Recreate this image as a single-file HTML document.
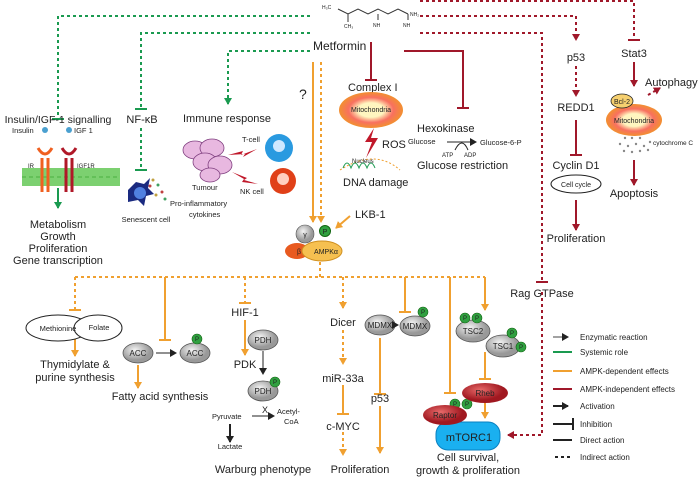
<!DOCTYPE html>
<html><head><meta charset="utf-8"><style>
html,body{margin:0;padding:0;background:#fff}
svg{display:block}
text{font-family:"Liberation Sans",sans-serif;fill:#222}
</style></head><body>
<svg width="700" height="478" viewBox="0 0 700 478" xmlns="http://www.w3.org/2000/svg">
<defs>
<marker id="ag" markerWidth="8" markerHeight="8" refX="6" refY="4" orient="auto" markerUnits="userSpaceOnUse"><path d="M0,0 L7,4 L0,8 z" fill="#1a9a50"/></marker>
<marker id="ao" markerWidth="8" markerHeight="8" refX="6" refY="4" orient="auto" markerUnits="userSpaceOnUse"><path d="M0,0 L7,4 L0,8 z" fill="#f0a030"/></marker>
<marker id="ar" markerWidth="8" markerHeight="8" refX="6" refY="4" orient="auto" markerUnits="userSpaceOnUse"><path d="M0,0 L7,4 L0,8 z" fill="#a0182a"/></marker>
<marker id="ak" markerWidth="8" markerHeight="8" refX="6" refY="4" orient="auto" markerUnits="userSpaceOnUse"><path d="M0,0 L7,4 L0,8 z" fill="#222"/></marker>
<radialGradient id="gg" cx="40%" cy="35%"><stop offset="0" stop-color="#f4f4f4"/><stop offset="1" stop-color="#999"/></radialGradient>
<radialGradient id="rg" cx="40%" cy="35%"><stop offset="0" stop-color="#e86a6a"/><stop offset="1" stop-color="#a01820"/></radialGradient>
<radialGradient id="mg"><stop offset="0.4" stop-color="#fff6c0"/><stop offset="0.7" stop-color="#f87060"/><stop offset="1" stop-color="#f29030"/></radialGradient>
</defs>

<g stroke="#1a9a50" stroke-width="2" stroke-dasharray="3,3" fill="none">
<path d="M310,16 H58 V118"/><path d="M310,33 H141 V108"/><path d="M310,51 H228 V104" marker-end="url(#ag)"/>
<path d="M141,128 V168"/>
</g>
<g stroke="#1a9a50" stroke-width="2"><path d="M52,119 H64"/><path d="M135,109 H147"/><path d="M135,170 H147"/></g>

<g stroke="#a0182a" stroke-width="2" stroke-dasharray="3,3" fill="none">
<path d="M420,1 H634 V38"/><path d="M420,16 H576 V40" marker-end="url(#ar)"/>
<path d="M420,33 H542 V280"/><path d="M542,292 V435 H508" marker-end="url(#ar)"/>
<path d="M576,66 V96" marker-end="url(#ar)"/>
<path d="M648,95 L660,88" marker-end="url(#ar)"/>
</g>
<g stroke="#a0182a" stroke-width="2" fill="none">
<path d="M628,40 H640"/><path d="M536,282 H548"/>
<path d="M371,42 V80"/><path d="M365,80 H377"/>
<path d="M404,51 H463 V108"/><path d="M457,108 H469"/>
<path d="M576,120 V155"/><path d="M570,155 H582"/>
<path d="M576,200 V230" marker-end="url(#ar)"/>
<path d="M634,62 V86" marker-end="url(#ar)"/>
<path d="M634,160 V185" marker-end="url(#ar)"/>
</g>

<g stroke="#333" stroke-width="1" fill="none"><path d="M338,9 L348,14 L358,9 L368,14 L378,9 L388,14 L398,9 L408,14"/><path d="M348,14 V22"/><path d="M378,14 V20"/><path d="M408,14 V20"/></g>
<text x="322" y="9" font-size="5">H₃C</text><text x="344" y="28" font-size="5">CH₃</text><text x="373" y="27" font-size="5">NH</text><text x="403" y="27" font-size="5">NH</text><text x="410" y="16" font-size="5">NH₂</text>
<text x="313" y="50" font-size="12">Metformin</text>

<g stroke="#f0a030" stroke-width="2" fill="none">
<path d="M313,62 V222" marker-end="url(#ao)"/>
<path d="M321,62 V222" stroke-dasharray="3,3" marker-end="url(#ao)"/>
<path d="M350,216 L336,228" marker-end="url(#ao)"/>
</g>
<text x="299" y="99" font-size="14">?</text>
<text x="355" y="218" font-size="11">LKB-1</text>

<text x="348" y="91" font-size="11">Complex I</text>
<ellipse cx="371" cy="110" rx="32" ry="18" fill="url(#mg)"/>
<text x="371" y="112" font-size="7" text-anchor="middle">Mitochondria</text>
<path d="M374,128 L365,142 L372,142 L366,158 L378,138 L371,138 Z" fill="#c0182a"/>
<text x="382" y="148" font-size="11">ROS</text>
<path d="M340,170 Q375,148 400,170" stroke="#f0a030" stroke-dasharray="2,2" fill="none"/>
<text x="352" y="163" font-size="6">Nucleus</text>
<path d="M343,168 q4,-10 8,0 q4,-10 8,0 q4,-10 8,0 q4,-10 8,0" stroke="#1a9a50" fill="none"/>
<text x="343" y="186" font-size="11">DNA damage</text>

<text x="417" y="132" font-size="11">Hexokinase</text>
<text x="408" y="144" font-size="7.5">Glucose</text>
<path d="M447,142 H476" stroke="#222" marker-end="url(#ak)"/>
<path d="M455,150 Q462,136 468,150" stroke="#222" fill="none"/>
<text x="480" y="145" font-size="7.5">Glucose-6-P</text>
<text x="442" y="157" font-size="6">ATP</text><text x="464" y="157" font-size="6">ADP</text>
<text x="417" y="169" font-size="11">Glucose restriction</text>

<text x="576" y="61" font-size="11" text-anchor="middle">p53</text>
<text x="576" y="111" font-size="11" text-anchor="middle">REDD1</text>
<text x="576" y="169" font-size="11" text-anchor="middle">Cyclin D1</text>
<ellipse cx="576" cy="184" rx="25" ry="9" fill="#fff" stroke="#222"/>
<text x="576" y="187" font-size="7" text-anchor="middle">Cell cycle</text>
<text x="576" y="242" font-size="11" text-anchor="middle">Proliferation</text>

<text x="634" y="57" font-size="11" text-anchor="middle">Stat3</text>
<text x="645" y="86" font-size="11">Autophagy</text>
<ellipse cx="634" cy="120" rx="28" ry="16" fill="url(#mg)"/>
<text x="634" y="123" font-size="7" text-anchor="middle">Mitochondria</text>
<ellipse cx="622" cy="101" rx="11" ry="7" fill="#f6d070" stroke="#222" stroke-width="0.8"/>
<text x="622" y="104" font-size="7" text-anchor="middle">Bcl-2</text>
<g fill="#888"><circle cx="625" cy="138" r="1.2"/><circle cx="632" cy="138" r="1.2"/><circle cx="640" cy="138" r="1.2"/><circle cx="620" cy="144" r="1.2"/><circle cx="628" cy="146" r="1.2"/><circle cx="636" cy="144" r="1.2"/><circle cx="644" cy="146" r="1.2"/><circle cx="650" cy="142" r="1.2"/><circle cx="624" cy="151" r="1.2"/><circle cx="632" cy="152" r="1.2"/><circle cx="640" cy="151" r="1.2"/><circle cx="648" cy="150" r="1.2"/></g>
<text x="653" y="145" font-size="6.5">cytochrome C</text>
<text x="634" y="197" font-size="11" text-anchor="middle">Apoptosis</text>

<text x="58" y="123" font-size="10.5" text-anchor="middle">Insulin/IGF-1 signalling</text>
<text x="12" y="133" font-size="7.5">Insulin</text><circle cx="45" cy="130" r="3" fill="#4aa0d0"/>
<circle cx="69" cy="130" r="3" fill="#4aa0d0"/><text x="74" y="133" font-size="7.5">IGF 1</text>
<rect x="22" y="168" width="98" height="18" fill="#7cd070"/>
<path d="M22,177 H120" stroke="#4ab040" stroke-dasharray="4,3"/>
<path d="M38,148 Q45,160 52,148 M42,158 V192 M48,158 V192" stroke="#f06020" stroke-width="3" fill="none"/>
<path d="M62,148 Q69,160 76,148 M66,158 V192 M72,158 V192" stroke="#b01828" stroke-width="3" fill="none"/>
<text x="28" y="168" font-size="6">IR</text><text x="77" y="168" font-size="6">IGF1R</text>
<path d="M58,188 V208" stroke="#1a9a50" stroke-width="2" marker-end="url(#ag)"/>
<g font-size="11" text-anchor="middle"><text x="58" y="228">Metabolism</text><text x="58" y="240">Growth</text><text x="58" y="252">Proliferation</text><text x="58" y="264">Gene transcription</text></g>

<text x="142" y="123" font-size="11" text-anchor="middle">NF-κB</text>
<path d="M128,190 l8,-8 l8,2 l6,-6 l-2,10 l6,6 l-8,2 l-2,10 l-6,-6 l-10,2 z" fill="#1a2a80"/>
<circle cx="140" cy="193" r="6" fill="#5080e0"/>
<g><circle cx="153" cy="180" r="1.5" fill="#c0a040"/><circle cx="158" cy="185" r="1.5" fill="#40a060"/><circle cx="162" cy="192" r="1.5" fill="#c04040"/><circle cx="156" cy="195" r="1.5" fill="#c0a040"/><circle cx="165" cy="199" r="1.5" fill="#40a060"/><circle cx="150" cy="186" r="1.5" fill="#c04040"/></g>
<text x="146" y="222" font-size="7.5" text-anchor="middle">Senescent cell</text>
<text x="170" y="206" font-size="7.5">Pro-inflammatory</text>
<text x="189" y="217" font-size="7.5">cytokines</text>

<text x="183" y="122" font-size="11">Immune response</text>
<g fill="#e8b8e0" stroke="#804080" stroke-width="0.8"><ellipse cx="195" cy="150" rx="12" ry="9"/><ellipse cx="212" cy="148" rx="12" ry="9"/><ellipse cx="205" cy="162" rx="12" ry="9"/><ellipse cx="220" cy="165" rx="12" ry="9"/><ellipse cx="210" cy="175" rx="10" ry="7"/></g>
<text x="192" y="190" font-size="7.5">Tumour</text>
<path d="M228,155 l15,-4 l-2,4 l16,-6 l-14,8 l2,-3 z" fill="#c0182a"/>
<path d="M232,172 l15,6 l-3,2 l14,4 l-16,-2 l2,-3 z" fill="#c0182a"/>
<text x="242" y="142" font-size="7.5">T-cell</text>
<circle cx="279" cy="148" r="14" fill="#2a9ae0"/><circle cx="279" cy="146" r="6" fill="#d0e8ff"/>
<circle cx="283" cy="181" r="13" fill="#e04018"/><circle cx="283" cy="179" r="6" fill="#ffd0c0"/>
<text x="240" y="194" font-size="7.5">NK cell</text>

<ellipse cx="297" cy="251" rx="12" ry="8" fill="#e85a20"/>
<ellipse cx="322" cy="251" rx="20" ry="10" fill="#f6c050" stroke="#d09020"/>
<circle cx="305" cy="234" r="9" fill="url(#gg)" stroke="#555" stroke-width="0.6"/>
<circle cx="325" cy="231" r="5.5" fill="#30a040" stroke="#116611"/>
<text x="325" y="234" font-size="7" text-anchor="middle">P</text>
<text x="305" y="237" font-size="7" text-anchor="middle">γ</text>
<text x="299" y="254" font-size="7" text-anchor="middle" fill="#fff">β</text>
<text x="326" y="254" font-size="7" text-anchor="middle">AMPKα</text>

<g stroke="#f0a030" stroke-width="2" fill="none">
<path d="M320,262 V277 M75,277 H485" stroke-dasharray="3,3"/>
<path d="M75,277 V309" stroke-dasharray="3,3"/><path d="M69,310 H81"/>
<path d="M165,277 V339 M159,340 H171"/>
<path d="M245,277 V302" stroke-dasharray="3,3"/><path d="M239,303 H251"/>
<path d="M343,277 V308" stroke-dasharray="3,3" marker-end="url(#ao)"/>
<path d="M405,277 V311 M399,312 H411"/>
<path d="M450,277 V392 M444,393 H456"/>
<path d="M485,277 V310" marker-end="url(#ao)"/>
<path d="M75,338 V356" marker-end="url(#ao)"/>
<path d="M138,365 V388" marker-end="url(#ao)"/>
<path d="M245,320 V355" marker-end="url(#ao)"/>
<path d="M343,330 V364" stroke-dasharray="3,3" marker-end="url(#ao)"/>
<path d="M343,385 V413 M337,414 H349"/>
<path d="M343,432 V455" stroke-dasharray="3,3" marker-end="url(#ao)"/>
<path d="M380,338 V393 M374,394 H386"/>
<path d="M380,406 V453" marker-end="url(#ao)"/>
<path d="M485,352 V378 M479,379 H491"/>
<path d="M485,403 V418" marker-end="url(#ao)"/>
</g>

<ellipse cx="58" cy="328" rx="32" ry="13" fill="#fff" stroke="#222"/>
<ellipse cx="98" cy="328" rx="24" ry="13" fill="#fff" stroke="#222"/>
<text x="58" y="331" font-size="7.5" text-anchor="middle">Methionine</text>
<text x="99" y="330" font-size="7.5" text-anchor="middle">Folate</text>
<text x="75" y="368" font-size="11" text-anchor="middle">Thymidylate &amp;</text>
<text x="75" y="381" font-size="11" text-anchor="middle">purine synthesis</text>

<g fill="url(#gg)" stroke="#555" stroke-width="0.8">
<ellipse cx="138" cy="353" rx="15" ry="10"/><ellipse cx="195" cy="353" rx="15" ry="10"/>
<ellipse cx="263" cy="340" rx="15" ry="10"/><ellipse cx="263" cy="391" rx="15" ry="10"/>
<ellipse cx="380" cy="325" rx="15" ry="10"/><ellipse cx="415" cy="326" rx="15" ry="10"/>
<ellipse cx="473" cy="331" rx="17" ry="11"/><ellipse cx="503" cy="346" rx="17" ry="11"/>
</g>
<g font-size="8" text-anchor="middle"><text x="138" y="356">ACC</text><text x="195" y="356">ACC</text><text x="263" y="343">PDH</text><text x="263" y="394">PDH</text><text x="380" y="328">MDMX</text><text x="415" y="329">MDMX</text><text x="473" y="334">TSC2</text><text x="503" y="349">TSC1</text></g>
<path d="M156,353 H176" stroke="#222" marker-end="url(#ak)"/>
<path d="M395,325 H398" stroke="#222" marker-end="url(#ak)"/>
<path d="M263,351 V374" stroke="#222" marker-end="url(#ak)"/>
<g fill="#30a040" stroke="#116611" stroke-width="0.6">
<circle cx="197" cy="339" r="5"/><circle cx="275" cy="382" r="5"/><circle cx="423" cy="312" r="5"/>
<circle cx="465" cy="318" r="5"/><circle cx="477" cy="318" r="5"/><circle cx="512" cy="333" r="5"/><circle cx="521" cy="347" r="5"/>
<circle cx="455" cy="404" r="5"/><circle cx="467" cy="404" r="5"/>
</g>
<g font-size="6" text-anchor="middle"><text x="197" y="341">P</text><text x="275" y="384">P</text><text x="423" y="314">P</text><text x="465" y="320">P</text><text x="477" y="320">P</text><text x="512" y="335">P</text><text x="521" y="349">P</text><text x="455" y="406">P</text><text x="467" y="406">P</text></g>
<text x="160" y="400" font-size="11" text-anchor="middle">Fatty acid synthesis</text>

<text x="245" y="316" font-size="11" text-anchor="middle">HIF-1</text>
<text x="245" y="368" font-size="11" text-anchor="middle">PDK</text>
<text x="265" y="413" font-size="9" fill="#d02020" text-anchor="middle">X</text>
<text x="212" y="419" font-size="7.5">Pyruvate</text>
<path d="M252,416 H274" stroke="#222" marker-end="url(#ak)"/>
<text x="277" y="414" font-size="7.5">Acetyl-</text><text x="284" y="424" font-size="7.5">CoA</text>
<path d="M230,424 V442" stroke="#222" stroke-width="2" marker-end="url(#ak)"/>
<text x="230" y="449" font-size="7.5" text-anchor="middle">Lactate</text>
<text x="263" y="473" font-size="11" text-anchor="middle">Warburg phenotype</text>

<text x="343" y="326" font-size="11" text-anchor="middle">Dicer</text>
<text x="343" y="382" font-size="11" text-anchor="middle">miR-33a</text>
<text x="343" y="430" font-size="11" text-anchor="middle">c-MYC</text>
<text x="380" y="402" font-size="11" text-anchor="middle">p53</text>
<text x="360" y="473" font-size="11" text-anchor="middle">Proliferation</text>

<ellipse cx="485" cy="393" rx="23" ry="10" fill="url(#rg)"/>
<text x="485" y="396" font-size="8" text-anchor="middle">Rheb</text>
<rect x="436" y="422" width="64" height="28" rx="12" fill="#1ab0f0" stroke="#0a80c0"/>
<ellipse cx="445" cy="415" rx="22" ry="10" fill="url(#rg)"/>
<text x="445" y="418" font-size="8" text-anchor="middle">Raptor</text>
<text x="469" y="441" font-size="11" text-anchor="middle">mTORC1</text>
<text x="468" y="461" font-size="11" text-anchor="middle">Cell survival,</text>
<text x="468" y="474" font-size="11" text-anchor="middle">growth &amp; proliferation</text>

<text x="542" y="297" font-size="11" text-anchor="middle">Rag GTPase</text>

<g stroke-width="2" fill="none">
<path d="M553,337 H568" stroke="#444" stroke-width="1" marker-end="url(#ak)"/>
<path d="M553,352 H572" stroke="#1a9a50"/>
<path d="M553,371 H572" stroke="#f0a030"/>
<path d="M553,389 H572" stroke="#a0182a"/>
<path d="M553,406 H568" stroke="#222" marker-end="url(#ak)"/>
<path d="M553,424 H573 M573,418 V430" stroke="#222"/>
<path d="M553,440 H572" stroke="#222"/>
<path d="M555,457 H572" stroke="#222" stroke-dasharray="3,3"/>
</g>
<g font-size="8"><text x="580" y="340">Enzymatic reaction</text><text x="580" y="355">Systemic role</text><text x="580" y="374">AMPK-dependent effects</text><text x="580" y="392">AMPK-independent effects</text><text x="580" y="409">Activation</text><text x="580" y="427">Inhibition</text><text x="580" y="443">Direct action</text><text x="580" y="460">Indirect action</text></g>
</svg>
</body></html>
